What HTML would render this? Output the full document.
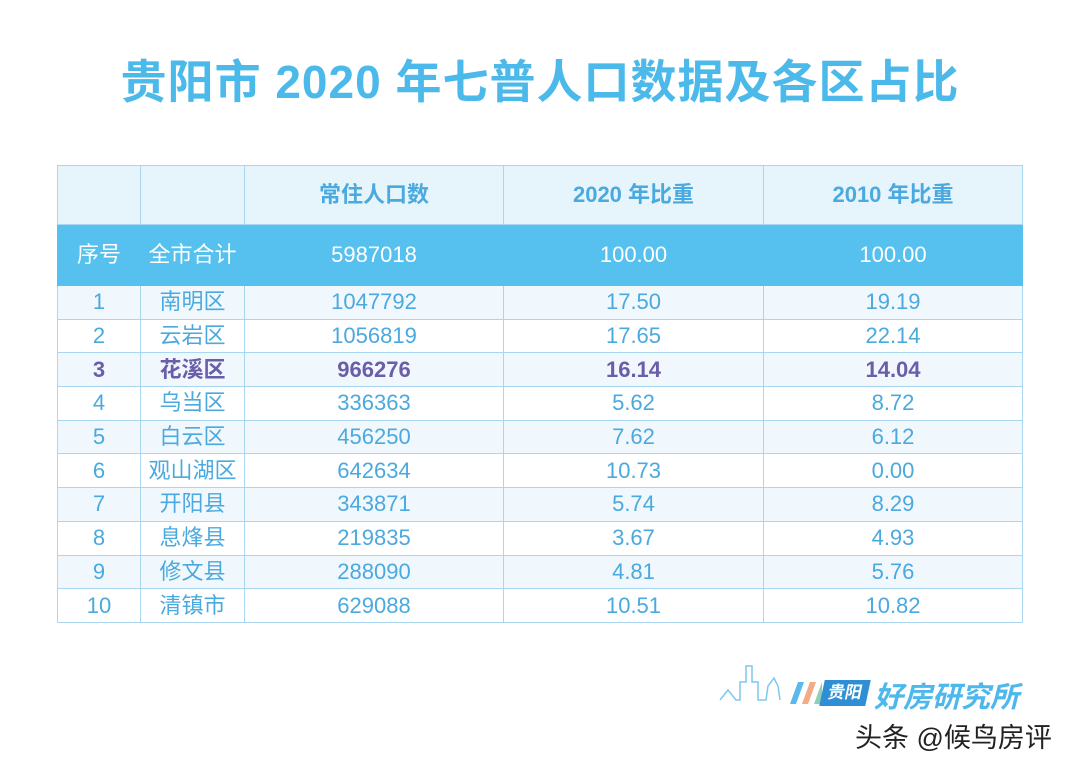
<!DOCTYPE html>
<html><head><meta charset="utf-8"><style>
body{margin:0;width:1080px;height:770px;background:#fff;position:relative;overflow:hidden;font-family:"Liberation Sans","Noto Sans CJK SC",sans-serif}
.title{position:absolute;left:0;top:46px;width:1080px;text-align:center;font-size:46px;font-weight:bold;color:#4bb9ea;letter-spacing:1px}
table{position:absolute;left:57px;top:165px;border-collapse:collapse;table-layout:fixed}
td{border:1.5px solid #a9d7f1;text-align:center;color:#4aa9de;font-size:22px;padding:0;height:32.7px;line-height:32px}
tr.h td{height:58px;background:#e6f4fc;font-weight:bold;font-size:22px}
tr.t td{height:60px;background:#56c1ee;color:#fff;border-color:#56c1ee}
tr.d:nth-child(odd) td{background:#f0f8fe}
tr.b td{color:#6a5ea8;font-weight:bold}
.logo{position:absolute;left:874px;top:674px;font-size:29px;font-style:italic;font-weight:bold;color:#4db8ec}
.tag{position:absolute;left:822px;top:680px;width:46px;height:26px;background:#2f8fd4;color:#fff;font-size:17px;line-height:26px;text-align:center;font-weight:bold;transform:skewX(-12deg)}
.src{position:absolute;left:855px;top:716px;font-size:27px;color:#222}
</style></head><body>
<div class="title">贵阳市 2020 年七普人口数据及各区占比</div>
<table>
<colgroup><col style="width:83px"><col style="width:104px"><col style="width:259px"><col style="width:260px"><col style="width:259px"></colgroup>
<tr class="h"><td></td><td></td><td>常住人口数</td><td>2020 年比重</td><td>2010 年比重</td></tr>
<tr class="t"><td>序号</td><td>全市合计</td><td>5987018</td><td>100.00</td><td>100.00</td></tr>
<tr class="d"><td>1</td><td>南明区</td><td>1047792</td><td>17.50</td><td>19.19</td></tr>
<tr class="d"><td>2</td><td>云岩区</td><td>1056819</td><td>17.65</td><td>22.14</td></tr>
<tr class="d b"><td>3</td><td>花溪区</td><td>966276</td><td>16.14</td><td>14.04</td></tr>
<tr class="d"><td>4</td><td>乌当区</td><td>336363</td><td>5.62</td><td>8.72</td></tr>
<tr class="d"><td>5</td><td>白云区</td><td>456250</td><td>7.62</td><td>6.12</td></tr>
<tr class="d"><td>6</td><td>观山湖区</td><td>642634</td><td>10.73</td><td>0.00</td></tr>
<tr class="d"><td>7</td><td>开阳县</td><td>343871</td><td>5.74</td><td>8.29</td></tr>
<tr class="d"><td>8</td><td>息烽县</td><td>219835</td><td>3.67</td><td>4.93</td></tr>
<tr class="d"><td>9</td><td>修文县</td><td>288090</td><td>4.81</td><td>5.76</td></tr>
<tr class="d"><td>10</td><td>清镇市</td><td>629088</td><td>10.51</td><td>10.82</td></tr>
</table>
<svg style="position:absolute;left:718px;top:660px" width="104" height="46">
<polyline points="2,40 10,30 18,40 22,40 22,22 28,22 28,6 34,6 34,22 40,22 40,40 48,40 50,26 56,18 60,26 62,40" fill="none" stroke="#7ec8ee" stroke-width="1.5"/>
<polygon points="72,44 80,22 86,22 78,44" fill="#5bb8ec"/>
<polygon points="84,44 92,22 98,22 90,44" fill="#f4a987"/>
<polygon points="96,44 104,22 110,22 102,44" fill="#8fd0b4"/>
</svg>
<div class="tag">贵阳</div>
<div class="logo">好房研究所</div>
<div class="src">头条 @候鸟房评</div>
</body></html>
